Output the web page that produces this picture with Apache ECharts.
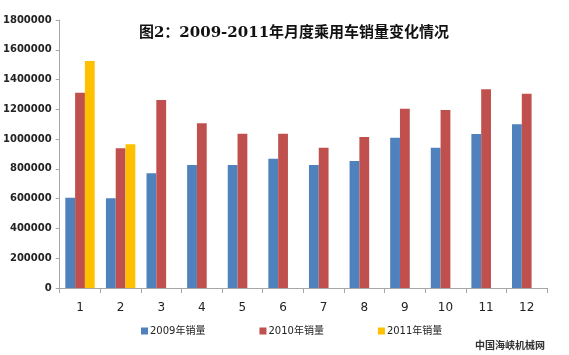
<!DOCTYPE html>
<html><head><meta charset="utf-8">
<script src="https://cdn.jsdelivr.net/npm/echarts@6/dist/echarts.min.js"></script>
<style>html,body{margin:0;padding:0;background:#fff}#c{width:569px;height:355px}</style>
</head><body><div id="c"></div>
<script>
var months = ['1','2','3','4','5','6','7','8','9','10','11','12'];
var sales2009 = [606000, 602000, 770000, 826000, 826000, 868000, 826000, 853000, 1009000, 942000, 1034000, 1099000];
var sales2010 = [1312000, 938000, 1263000, 1106000, 1036000, 1036000, 942000, 1014000, 1204000, 1196000, 1335000, 1305000];
var sales2011 = [1524000, 965000, null, null, null, null, null, null, null, null, null, null];
var seriesNames = ['2009年销量', '2010年销量', '2011年销量'];
var yTicks = [0, 200000, 400000, 600000, 800000, 1000000, 1200000, 1400000, 1600000, 1800000];

var chart = echarts.init(document.getElementById('c'), null, {renderer: 'canvas'});
var colors = ['#4F81BD', '#C0504D', '#FFC000'];
var dataSets = [sales2009, sales2010, sales2011];
chart.setOption({
  animation: false,
  backgroundColor: '#ffffff',
  title: {
    text: '图2：2009-2011年月度乘用车销量变化情况',
    left: 289, top: 21, textAlign: 'center',
    textStyle: {fontFamily: '"DejaVu Serif","Noto Sans CJK SC"', fontSize: 15, fontWeight: 'bold', color: '#111'}
  },
  legend: {
    data: seriesNames,
    top: 321, left: 136,
    itemWidth: 7, itemHeight: 7, itemGap: 54, icon: 'rect',
    textStyle: {fontFamily: '"DejaVu Sans","Noto Sans CJK SC"', fontSize: 10, color: '#222', padding: [0,0,0,-3]}
  },
  graphic: [{
    type: 'text', left: 475, top: 340,
    style: {text: '中国海峡机械网', font: 'bold 10px "Noto Sans CJK SC"', fill: '#333'}
  }],
  grid: {left: 58, right: 22, top: 20, bottom: 67},
  xAxis: {
    type: 'category', data: months,
    axisLine: {lineStyle: {color: '#a6a6a6'}},
    axisTick: {show: true, alignWithLabel: false, length: 5, lineStyle: {color: '#a6a6a6'}},
    axisLabel: {fontFamily: '"DejaVu Sans"', fontSize: 12, color: '#222', margin: 14}
  },
  yAxis: {
    type: 'value', min: 0, max: 1800000, interval: 200000,
    splitLine: {show: false},
    axisLine: {show: true, lineStyle: {color: '#a6a6a6'}},
    axisTick: {show: true, length: 4, lineStyle: {color: '#a6a6a6'}},
    axisLabel: {fontFamily: '"DejaVu Sans"', fontSize: 10, fontWeight: 'bold', color: '#222', margin: 8,
      formatter: function(v){ return yTicks.indexOf(v) >= 0 ? String(v) : ''; }}
  },
  series: seriesNames.map(function(n, i){
    return {name: n, type: 'bar', data: dataSets[i], barWidth: 9.8, barGap: '0%',
      itemStyle: {color: colors[i]}};
  })
});
</script></body></html>
